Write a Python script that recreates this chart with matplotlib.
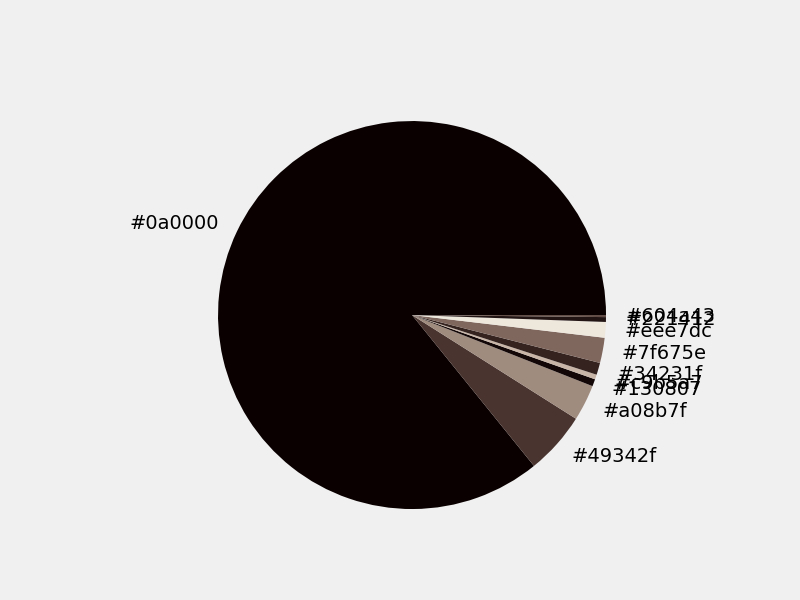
import matplotlib
matplotlib.use("Agg")
import matplotlib.pyplot as plt

colors = ["#0a0000", "#49342f", "#a08b7f", "#130807", "#c9b5a7",
          "#34231f", "#7f675e", "#eee7dc", "#221412", "#604a43"]
shares = [85.75, 5.2, 3.0, 0.6, 0.4, 1.0, 2.1, 1.3, 0.4, 0.17]

fig = plt.figure(figsize=(8, 6), dpi=100, facecolor="#f0f0f0")
ax = fig.add_axes([0.2119, 0.0708, 0.60625, 0.8083])
ax.set_facecolor("#f0f0f0")
ax.pie(shares, labels=colors, colors=colors, textprops={"fontsize": 14})
ax.set_xlim(-1.25, 1.25)
ax.set_ylim(-1.25, 1.25)
ax.set_aspect("equal")
fig.savefig("out.png", facecolor=fig.get_facecolor())
